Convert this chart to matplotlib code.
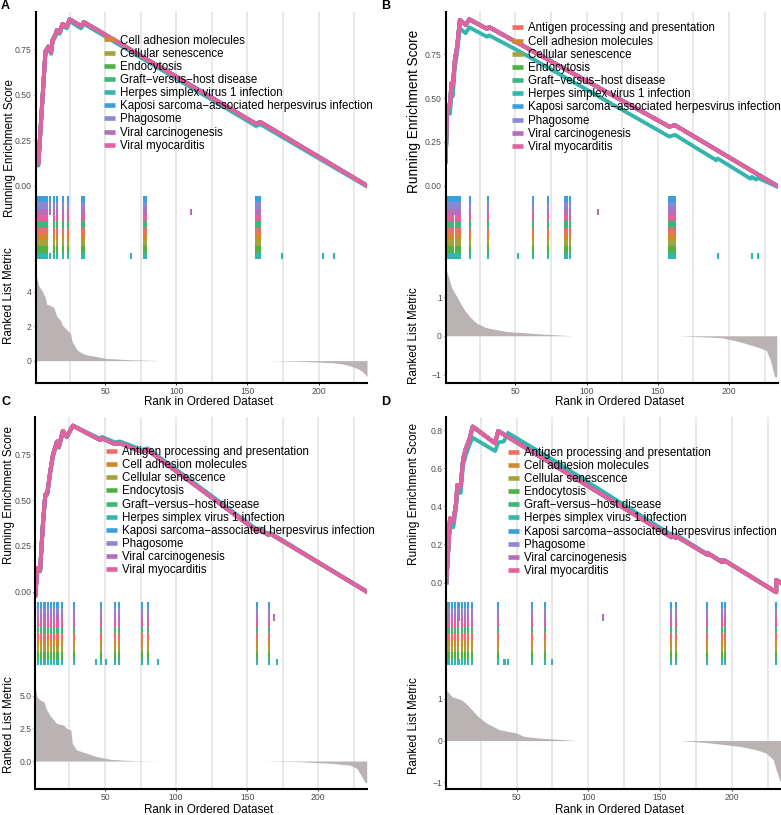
import numpy as np
import matplotlib.pyplot as plt
from matplotlib.lines import Line2D

plt.rcParams['font.family'] = ['Liberation Sans', 'DejaVu Sans']

W, H = 781, 815
n_genes = 234

# gene sets in legend order and their colours
gene_sets = ["Antigen processing and presentation", "Cell adhesion molecules",
             "Cellular senescence", "Endocytosis", "Graft\u2212versus\u2212host disease",
             "Herpes simplex virus 1 infection",
             "Kaposi sarcoma\u2212associated herpesvirus infection",
             "Phagosome", "Viral carcinogenesis", "Viral myocarditis"]
set_colors = ["#EE6D66", "#D2882C", "#A4A23A", "#4FB043", "#3DB67A",
              "#33B6AD", "#3A9FDA", "#8A88D2", "#B66DBA", "#E2619F"]
# rows of the hit strip, top to bottom (index into gene_sets)
rug_rows = [6, 7, 8, 9, 4, 0, 1, 2, 3, 5]
HERPES, CARC = 5, 8
UPPER = [6, 7, 8, 5]

# ---------------- panel A ----------------
es_rank_A = [1, 3, 8, 9, 10, 12, 13, 15, 16, 18, 20, 23, 25, 33, 35, 156, 159, 234]
es_main_A = [0.12, 0.12, 0.74, 0.75, 0.765, 0.735, 0.80, 0.83, 0.855, 0.845, 0.89,
             0.875, 0.915, 0.878, 0.90, 0.34, 0.35, 0.0]
herpes_rank_A = es_rank_A
es_herpes_A = [0.12, 0.11, 0.72, 0.74, 0.755, 0.725, 0.79, 0.82, 0.845, 0.835, 0.88,
               0.865, 0.905, 0.865, 0.89, 0.328, 0.338, -0.005]
hits_all_A = [2, 3, 4, 5, 6, 7, 8, 9, 14, 16, 20, 24, 34, 35, 77, 79, 156, 157, 158, 159]
hits_upper_A = [11]
hits_herpes_A = [68, 174, 203, 211]
hits_carc_A = [110]
metric_rank_A = [1, 2, 3.5, 5.4, 7.7, 8.9, 11.3, 13.8, 16.1, 18.5, 19.7, 22, 24.4, 25.6,
                 26.8, 30.3, 33.8, 37.3, 44.4, 50.5, 65.5, 82, 91.4, 163, 187, 210,
                 217.5, 222, 227, 230.4, 232.8, 234]
metric_A = [4.97, 4.78, 4.3, 4.1, 3.7, 3.28, 3.2, 3.1, 2.55, 2.36, 2.07, 1.88, 1.68, 1.59,
            1.1, 0.62, 0.43, 0.33, 0.23, 0.13, 0.06, 0.02, 0.0, 0.0, -0.04, -0.12,
            -0.2, -0.3, -0.45, -0.6, -0.8, -0.95]

# ---------------- panel B ----------------
es_rank_B = [1, 2, 4, 5, 6, 7.5, 9, 11, 15, 17.5, 30, 31.5, 158, 162, 233.5]
es_main_B = [0.14, 0.46, 0.45, 0.585, 0.57, 0.72, 0.79, 0.946, 0.917, 0.95, 0.895,
             0.905, 0.337, 0.345, 0.0]
herpes_rank_B = [1, 2, 4, 5, 6, 7.5, 9, 11, 15, 17.5, 30, 31.5, 52, 158, 162, 191, 192,
                 215, 216, 219, 220, 233.5]
es_herpes_B = [0.14, 0.42, 0.41, 0.52, 0.51, 0.68, 0.76, 0.898, 0.87, 0.904, 0.85,
               0.858, 0.77, 0.28, 0.29, 0.145, 0.155, 0.04, 0.05, 0.035, 0.045, -0.005]
hits_all_B = [2, 3, 5, 6, 8, 9, 10, 11, 18, 31, 62, 73, 85, 86, 88, 158, 159, 160, 161, 162]
hits_upper_B = [4, 7]
hits_herpes_B = [52, 192, 216, 220]
hits_carc_B = [108]
metric_rank_B = [1, 2, 3, 5, 7, 9, 12, 15, 18, 21, 23, 28, 32, 44, 67, 90, 165, 195,
                 207, 219, 226, 229, 232, 233.5]
metric_B = [1.8, 1.62, 1.52, 1.26, 1.12, 1.0, 0.8, 0.62, 0.49, 0.38, 0.32, 0.23, 0.19,
            0.11, 0.05, 0.0, 0.0, -0.05, -0.15, -0.28, -0.37, -0.63, -1.06, -1.06]

# ---------------- panel C ----------------
es_rank_C = [1, 2.5, 4.4, 6.3, 8, 9.5, 11.5, 13.4, 16.2, 17.5, 20.4, 23.2, 27.4, 46.6,
             47.8, 57, 60.5, 76, 80, 157, 158, 165, 166, 234]
es_main_C = [-0.02, 0.128, 0.118, 0.364, 0.528, 0.54, 0.655, 0.746, 0.819, 0.79, 0.877,
             0.846, 0.906, 0.828, 0.837, 0.806, 0.81, 0.764, 0.773, 0.33, 0.34, 0.31,
             0.318, 0.0]
herpes_rank_C = es_rank_C
es_herpes_C = [-0.02, 0.12, 0.11, 0.35, 0.515, 0.53, 0.645, 0.735, 0.81, 0.785, 0.87,
               0.842, 0.905, 0.835, 0.845, 0.815, 0.82, 0.775, 0.782, 0.338, 0.346,
               0.315, 0.322, 0.0]
hits_all_C = [3, 5, 7, 8, 10, 12, 14, 16, 17, 20, 28, 47, 57, 60, 76, 80, 157, 165]
hits_upper_C = []
hits_herpes_C = [44, 51, 87, 171]
hits_carc_C = [169]
metric_rank_C = [1, 2, 4, 7, 9, 12, 16, 21, 23, 26, 27, 30, 37, 44, 54, 70, 89, 161,
                 187, 210, 222, 227, 230, 233, 234]
metric_C = [5.74, 4.92, 4.7, 4.54, 3.9, 3.39, 2.88, 2.75, 2.5, 2.37, 1.35, 0.85, 0.6,
            0.34, 0.13, 0.03, 0.0, 0.0, -0.05, -0.18, -0.31, -0.56, -1.07, -1.66, -1.66]

# ---------------- panel D ----------------
es_rank_D = [1, 3.6, 5.9, 7.8, 8.7, 11, 12.8, 14.7, 17, 19.4, 35, 37.2, 158, 158, 161,
             161, 183, 183, 193, 193, 195, 195, 231, 231, 234]
es_main_D = [0.0, 0.337, 0.32, 0.416, 0.512, 0.503, 0.652, 0.704, 0.748, 0.818, 0.731,
             0.795, 0.238, 0.248, 0.235, 0.245, 0.146, 0.155, 0.109, 0.117, 0.108,
             0.116, -0.05, 0.014, 0.0]
herpes_rank_D = [1, 3.6, 5.9, 7.8, 8.7, 11, 12.8, 14.7, 17, 19.4, 35, 37.2, 41, 42, 44,
                 75, 158, 158, 161, 161, 183, 183, 193, 193, 195, 195, 231, 231, 234]
es_herpes_D = [0.0, 0.30, 0.29, 0.39, 0.48, 0.47, 0.62, 0.67, 0.72, 0.76, 0.69, 0.735,
               0.74, 0.755, 0.785, 0.645, 0.25, 0.258, 0.244, 0.252, 0.15, 0.158, 0.11,
               0.118, 0.108, 0.116, -0.05, 0.014, 0.0]
hits_all_D = [1, 2, 3, 5, 7, 9, 12, 14, 16, 19, 37, 61, 70, 158, 161, 183, 193, 195, 231]
hits_upper_D = [10]
hits_herpes_D = [41, 42, 44, 75]
hits_carc_D = [110]
metric_rank_D = [1, 5, 12, 17, 23, 29, 38, 50, 55, 66, 92, 164, 183, 206, 217, 224, 229,
                 231, 234]
metric_D = [1.21, 1.05, 0.97, 0.81, 0.58, 0.42, 0.26, 0.18, 0.1, 0.06, 0.0, 0.0, -0.05,
            -0.14, -0.22, -0.3, -0.46, -0.7, -1.0]

grid_ranks = [25, 50, 75, 100, 125, 150, 175, 200, 225]
x_ticks = [50, 100, 150, 200]

fig = plt.figure(figsize=(W / 100, H / 100), dpi=100)


def px_axes(left, right, top, bottom):
    return fig.add_axes([left / W, 1 - bottom / H, (right - left) / W, (bottom - top) / H])


def style(ax):
    for s in ['top', 'right', 'bottom']:
        ax.spines[s].set_visible(False)
    ax.spines['left'].set_linewidth(1.5)
    ax.spines['left'].set_color('black')
    ax.set_xlim(1, n_genes)
    for g in grid_ranks:
        ax.axvline(g, color='#E8E8E8', lw=1.4, zorder=0)
    ax.tick_params(axis='both', colors='#333333', labelcolor='#4D4D4D', labelsize=6.2,
                   length=1.5, width=0.7, pad=1.4)


def draw_panel(box, sets_shown, es_x, es_y, hx, hy, hits_all, hits_upper, hits_herpes,
               hits_carc, mx, my, es_lim, es_ticks, es_labels, rk_lim, rk_ticks,
               rk_labels, legend_xy, es_lab, rk_lab, xlab_xy, es_lab_size):
    left, right, top, es_bot, rug_bot, bottom = box
    ax1 = px_axes(left, right, top, es_bot)
    ax2 = px_axes(left, right, es_bot, rug_bot)
    ax3 = px_axes(left, right, rug_bot, bottom)
    for ax in (ax1, ax2, ax3):
        style(ax)

    # running enrichment score
    handles = []
    for k in sets_shown:
        if k == HERPES:
            ax1.plot(hx, hy, color=set_colors[k], lw=2.8, solid_joinstyle='round')
        else:
            ax1.plot(es_x, es_y, color=set_colors[k], lw=2.8, solid_joinstyle='round')
        handles.append(Line2D([], [], color=set_colors[k], lw=3.3, solid_capstyle='butt'))
    ax1.set_ylim(*es_lim)
    ax1.set_xticks([])
    ax1.set_yticks(es_ticks)
    ax1.set_yticklabels(es_labels)
    ax1.legend(handles, [gene_sets[k] for k in sets_shown], loc='upper left',
               bbox_to_anchor=(legend_xy[0] / W, 1 - legend_xy[1] / H),
               bbox_transform=fig.transFigure, frameon=False, fontsize=8.3,
               handlelength=0.95, handletextpad=0.45, labelspacing=0.1,
               borderpad=0, borderaxespad=0)

    # hit strip
    for r, k in enumerate(rug_rows):
        pos = list(hits_all)
        if k in UPPER:
            pos += hits_upper
        if k == HERPES:
            pos += hits_herpes
        if k == CARC:
            pos += hits_carc
        ax2.vlines(pos, 9 - r, 10 - r, colors=set_colors[k], lw=1.5)
    ax2.set_ylim(0, 10)
    ax2.set_xticks([])
    ax2.set_yticks([])

    # ranked list metric
    ax3.fill_between(mx, 0, my, color='#B9B3B3', lw=0, zorder=2)
    ax3.spines['bottom'].set_visible(True)
    ax3.spines['bottom'].set_linewidth(1.5)
    ax3.spines['bottom'].set_color('black')
    ax3.set_ylim(*rk_lim)
    ax3.set_yticks(rk_ticks)
    ax3.set_yticklabels(rk_labels)
    ax3.set_xticks(x_ticks)

    fig.text(es_lab[0], 1 - es_lab[1] / H, 'Running Enrichment Score', rotation=90,
             ha='center', va='center', fontsize=es_lab_size)
    fig.text(rk_lab[0], 1 - rk_lab[1] / H, 'Ranked List Metric', rotation=90,
             ha='center', va='center', fontsize=8.4)
    fig.text(xlab_xy[0] / W, 1 - xlab_xy[1] / H, 'Rank in Ordered Dataset',
             ha='center', va='center', fontsize=8.4)


def xf(px):
    return px / W


ten = list(range(10))
nine = list(range(1, 10))

draw_panel((35.5, 367, 11.7, 196, 259, 382.7), nine, es_rank_A, es_main_A,
           herpes_rank_A, es_herpes_A, hits_all_A, hits_upper_A, hits_herpes_A,
           hits_carc_A, metric_rank_A, metric_A, (-0.057, 0.957),
           [0, 0.25, 0.5, 0.75], ['0.00', '0.25', '0.50', '0.75'], (-1.28, 5.9),
           [0, 2, 4], ['0', '2', '4'], (104, 34.5), (xf(10), 148), (xf(9.5), 296),
           (209, 402), 8.3)
draw_panel((445.7, 777.5, 11.7, 196, 259, 382.7), ten, es_rank_B, es_main_B,
           herpes_rank_B, es_herpes_B, hits_all_B, hits_upper_B, hits_herpes_B,
           hits_carc_B, metric_rank_B, metric_B, (-0.059, 0.993),
           [0, 0.25, 0.5, 0.75], ['0.00', '0.25', '0.50', '0.75'], (-1.21, 1.98),
           [-1, 0, 1], ['\u22121', '0', '1'], (512.3, 22.5), (xf(414), 111),
           (xf(414), 335.5), (619.5, 402), 9.8)
draw_panel((35.3, 366.7, 416.7, 601.7, 665, 789), ten, es_rank_C, es_main_C,
           herpes_rank_C, es_herpes_C, hits_all_C, hits_upper_C, hits_herpes_C,
           hits_carc_C, metric_rank_C, metric_C, (-0.055, 0.955),
           [0, 0.25, 0.5, 0.75], ['0.00', '0.25', '0.50', '0.75'], (-2.14, 7.35),
           [0, 2.5, 5], ['0.0', '2.5', '5.0'], (106, 446), (xf(9.5), 495),
           (xf(9.5), 724.7), (209, 810), 8.3)
draw_panel((446.3, 780.5, 416.7, 601.7, 665, 789), ten, es_rank_D, es_main_D,
           herpes_rank_D, es_herpes_D, hits_all_D, hits_upper_D, hits_herpes_D,
           hits_carc_D, metric_rank_D, metric_D, (-0.10, 0.87),
           [0, 0.2, 0.4, 0.6, 0.8], ['0.0', '0.2', '0.4', '0.6', '0.8'], (-1.16, 1.81),
           [-1, 0, 1], ['\u22121', '0', '1'], (508.3, 446.7), (xf(414), 494),
           (xf(414), 725.5), (619.5, 810), 8.6)

for letter, x, y in [('A', 5, 6), ('B', 386, 6), ('C', 6, 402), ('D', 386, 402)]:
    fig.text(x / W, 1 - y / H, letter, fontsize=9, fontweight='bold', ha='center', va='center')

fig.savefig('out.png', dpi=100)
